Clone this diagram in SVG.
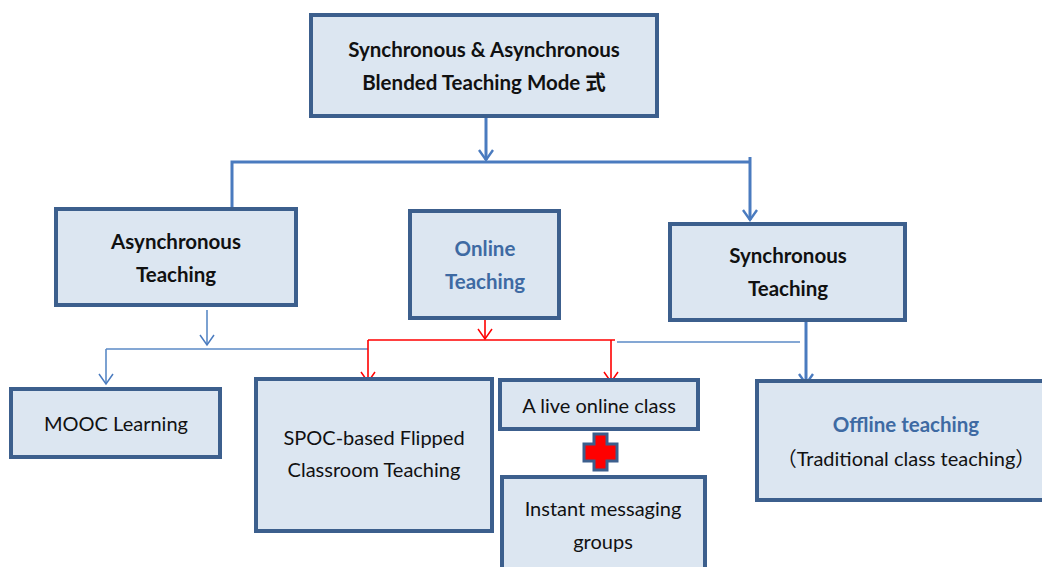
<svg xmlns="http://www.w3.org/2000/svg" width="1042" height="567" viewBox="0 0 1042 567">
  <defs>
    <marker id="arrBlue" markerWidth="16" markerHeight="16" refX="13" refY="8" orient="auto" markerUnits="userSpaceOnUse" viewBox="0 0 16 16">
      <path d="M3,1 L13,8 L3,15" fill="none" stroke="#4a7bbf" stroke-width="2.4"/>
    </marker>
    <marker id="arrBlueThin" markerWidth="16" markerHeight="16" refX="13" refY="8" orient="auto" markerUnits="userSpaceOnUse" viewBox="0 0 16 16">
      <path d="M3,1 L13,8 L3,15" fill="none" stroke="#4a7bbf" stroke-width="1.5"/>
    </marker>
    <marker id="arrRed" markerWidth="16" markerHeight="16" refX="13" refY="8" orient="auto" markerUnits="userSpaceOnUse" viewBox="0 0 16 16">
      <path d="M3,1 L13,8 L3,15" fill="none" stroke="#ff0000" stroke-width="1.5"/>
    </marker>
  </defs>
  <style>
    .box { fill: #dce6f1; stroke: #3c5f8d; stroke-width: 4; }
    .t { font-family: Lato, "Liberation Sans", "Noto Sans CJK SC", sans-serif; font-size: 20px; fill: #111; text-anchor: middle; }
    .b { font-weight: bold; font-size: 20.5px; }
    .blue { fill: #3e6aa3; }
    .lnB { fill: none; stroke: #4a7bbf; stroke-width: 3; }
    .lnBt { fill: none; stroke: #5b8ac6; stroke-width: 1.6; }
    .lnR { fill: none; stroke: #ff0000; stroke-width: 1.6; }
  </style>
  <rect width="1042" height="567" fill="#ffffff"/>

  <g id="connectors">
    <!-- root to branch bus -->
    <path class="lnB" d="M486,117 V160" marker-end="url(#arrBlue)"/>
    <path class="lnB" d="M232,209 V162 H750"/>
    <path class="lnB" d="M750,157 V220" marker-end="url(#arrBlue)"/>
    <!-- asynchronous branch -->
    <path class="lnBt" d="M207,310 V345" marker-end="url(#arrBlueThin)"/>
    <path class="lnBt" d="M106,349 H368"/>
    <path class="lnBt" d="M106,349 V384" marker-end="url(#arrBlueThin)"/>
    <!-- online branch -->
    <path class="lnR" d="M485,320 V339" marker-end="url(#arrRed)"/>
    <path class="lnR" d="M368,340 H615"/>
    <path class="lnR" d="M368,340 V382" marker-end="url(#arrRed)"/>
    <path class="lnR" d="M611,340 V382" marker-end="url(#arrRed)"/>
    <!-- synchronous branch -->
    <path class="lnBt" d="M617,342 H800"/>
    <path class="lnB" d="M806,321 V384" marker-end="url(#arrBlue)"/>
  </g>

  <g id="root">
    <rect class="box" x="311" y="15" width="346" height="101"/>
    <text class="t b" x="484" y="57">Synchronous &amp; Asynchronous</text>
    <text class="t b" x="484" y="90">Blended Teaching Mode 式</text>
  </g>

  <g id="asynchronous">
    <rect class="box" x="56" y="209" width="240" height="96"/>
    <text class="t b" x="176" y="249">Asynchronous</text>
    <text class="t b" x="176" y="282">Teaching</text>
  </g>

  <g id="online">
    <rect class="box" x="410" y="211" width="149" height="107"/>
    <text class="t b blue" x="485" y="256">Online</text>
    <text class="t b blue" x="485" y="289">Teaching</text>
  </g>

  <g id="synchronous">
    <rect class="box" x="670" y="224" width="235" height="96"/>
    <text class="t b" x="788" y="263">Synchronous</text>
    <text class="t b" x="788" y="296">Teaching</text>
  </g>

  <g id="mooc">
    <rect class="box" x="11" y="389" width="209" height="68"/>
    <text class="t" x="116" y="431">MOOC Learning</text>
  </g>

  <g id="spoc">
    <rect class="box" x="256" y="379" width="236" height="152"/>
    <text class="t" x="374" y="445">SPOC-based Flipped</text>
    <text class="t" x="374" y="477">Classroom Teaching</text>
  </g>

  <g id="live">
    <rect class="box" x="500" y="380" width="198" height="49"/>
    <text class="t" x="599" y="413">A live online class</text>
  </g>

  <g id="plus">
    <path d="M594,434 H607 V444 H617 V461 H607 V470 H594 V461 H584 V444 H594 Z" fill="#ff0000" stroke="#3c5f8d" stroke-width="3"/>
  </g>

  <g id="im">
    <rect class="box" x="502" y="477" width="203" height="96"/>
    <text class="t" x="603" y="516">Instant messaging</text>
    <text class="t" x="603" y="549">groups</text>
  </g>

  <g id="offline">
    <rect class="box" x="757" y="381" width="292" height="119"/>
    <text class="t b blue" x="906" y="432">Offline teaching</text>
    <text class="t" x="906" y="466">（Traditional class teaching）</text>
  </g>
</svg>
